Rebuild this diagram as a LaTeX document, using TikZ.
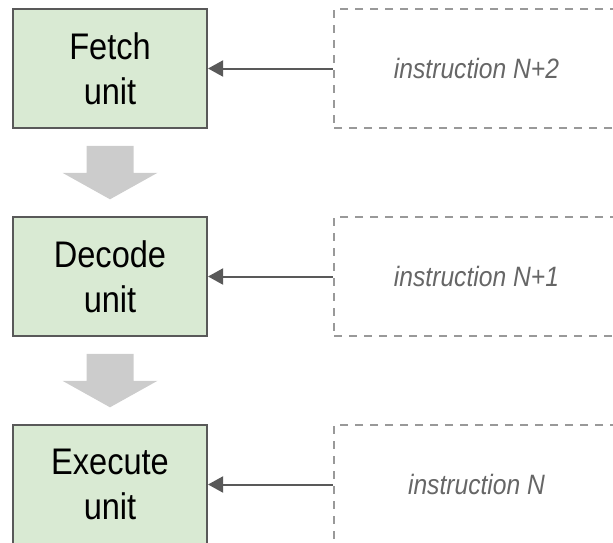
\documentclass[tikz,border=0pt]{standalone}
\usepackage{fontspec}
\setmainfont[FakeStretch=0.88]{Liberation Sans}
\usetikzlibrary{arrows.meta,positioning,calc}
\definecolor{unitfill}{HTML}{D9EAD3}
\definecolor{unitline}{HTML}{595959}
\definecolor{flowgray}{HTML}{CCCCCC}
\definecolor{slotline}{HTML}{999999}
\definecolor{slottext}{HTML}{666666}
\begin{document}
\begin{tikzpicture}[x=1pt,y=-1pt,
  unitbox/.style={draw=unitline,line width=1.6pt,fill=unitfill,
    minimum width=194.5pt,minimum height=119pt,inner sep=0pt,
    align=center,font=\fontsize{37}{45}\selectfont},
  slotbox/.style={draw=slotline,line width=1.6pt,dash pattern=on 8pt off 7pt,
    minimum width=285pt,minimum height=119pt,inner sep=0pt,
    text=slottext,font=\fontsize{28}{32}\selectfont\itshape},
  feed/.style={draw=unitline,line width=2pt,
    -{Triangle[length=15pt,width=16pt]}},
  flow/.style={fill=flowgray,draw=none}]
\useasboundingbox (0,0) rectangle (613,542);

% pipeline units
\node[unitbox] (fetch)  at (110,68.5)  {Fetch\\unit};
\node[unitbox] (decode) at (110,276.5) {Decode\\unit};
\node[unitbox] (exec)   at (110,484.5) {Execute\\unit};

% instruction slots
\node[slotbox] (slotA) at (476.5,68.5)  {instruction N+2};
\node[slotbox] (slotB) at (476.5,276.5) {instruction N+1};
\node[slotbox] (slotC) at (476.5,484.5) {instruction N};

% instructions fed into the units
\draw[feed] (slotA.west) -- (fetch.east);
\draw[feed] (slotB.west) -- (decode.east);
\draw[feed] (slotC.west) -- (exec.east);

% block arrows between stages
\foreach \u in {fetch,decode}{
  \fill[flow] ($(\u.south)+(-23.5,17)$) -- ($(\u.south)+(23.5,17)$)
    -- ($(\u.south)+(23.5,44)$) -- ($(\u.south)+(47.5,44)$)
    -- ($(\u.south)+(0,70.5)$) -- ($(\u.south)+(-47.5,44)$)
    -- ($(\u.south)+(-23.5,44)$) -- cycle;
}
\end{tikzpicture}
\end{document}
